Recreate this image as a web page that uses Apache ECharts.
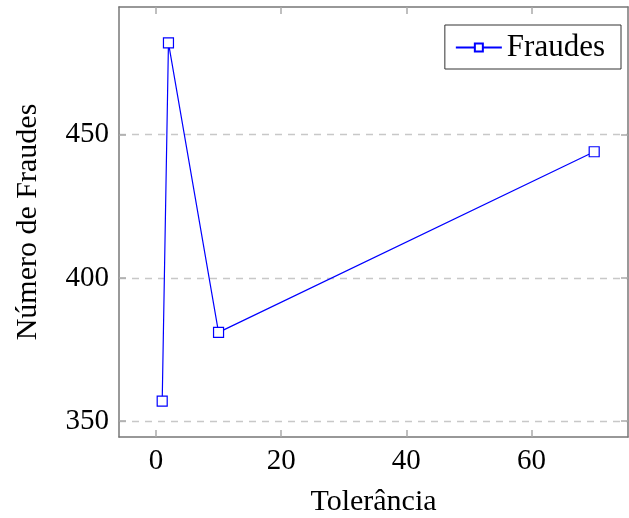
<!DOCTYPE html>
<html>
<head>
<meta charset="utf-8">
<script src="https://cdn.jsdelivr.net/npm/echarts@6/dist/echarts.min.js"></script>
<style>
  html, body { margin: 0; padding: 0; background: #fff; }
  #main { width: 629px; height: 518px; }
</style>
</head>
<body>
<div id="main"></div>
<script>
// dados
var tolerancia = [1, 2, 10, 70]
var fraudes = [357, 482, 381, 444]
var xTicks = [0, 20, 40, 60]
var yTicks = [350, 400, 450]

var font = 'Liberation Serif'
var myChart = echarts.init(document.getElementById('main'))

var pontos = tolerancia.map(function (t, i) { return [t, fraudes[i]] })

var axisGray = '#777'
var tickStyle = { color: '#aaa', width: 1.5 }
var option = {
    animation: false,
    textStyle: { fontFamily: font },
    grid: { left: 119, top: 7, right: 1, bottom: 81, outerBoundsMode: 'none', containLabel: false },
    legend: {
        data: ['Fraudes'],
        right: 8,
        top: 25,
        orient: 'vertical',
        backgroundColor: '#fff',
        borderColor: '#333',
        borderWidth: 1,
        padding: [7, 16, 6, 10],
        itemWidth: 46,
        itemHeight: 10,
        itemGap: 0,
        textStyle: { fontFamily: font, fontSize: 31, color: '#000' }
    },
    xAxis: [{
        type: 'value',
        min: -5.9,
        max: 75.4,
        name: 'Tolerância',
        nameLocation: 'middle',
        nameGap: 50,
        nameTextStyle: { fontFamily: font, fontSize: 30, color: '#000' },
        axisLine: { show: true, onZero: false, lineStyle: { color: axisGray, width: 1.5 } },
        axisTick: { show: true, inside: true, length: 7, lineStyle: tickStyle, customValues: xTicks },
        axisLabel: { fontFamily: font, fontSize: 29, color: '#000', margin: 10, customValues: xTicks },
        splitLine: { show: false }
    }, {
        type: 'value',
        position: 'top',
        min: -5.9,
        max: 75.4,
        axisLine: { show: true, onZero: false, lineStyle: { color: axisGray, width: 1.5 } },
        axisTick: { show: true, inside: true, length: 7, lineStyle: tickStyle, customValues: xTicks },
        axisLabel: { show: false },
        splitLine: { show: false }
    }],
    yAxis: [{
        type: 'value',
        min: 344.5,
        max: 494.5,
        name: 'Número de Fraudes',
        nameLocation: 'middle',
        nameGap: 76,
        nameTextStyle: { fontFamily: font, fontSize: 30, color: '#000' },
        axisLine: { show: true, onZero: false, lineStyle: { color: axisGray, width: 1.5 } },
        axisTick: { show: true, inside: true, length: 7, lineStyle: tickStyle, customValues: yTicks },
        axisLabel: { fontFamily: font, fontSize: 29, color: '#000', margin: 10, customValues: yTicks },
        splitLine: { show: false }
    }, {
        type: 'value',
        position: 'right',
        min: 344.5,
        max: 494.5,
        axisLine: { show: true, onZero: false, lineStyle: { color: axisGray, width: 1.5 } },
        axisTick: { show: true, inside: true, length: 7, lineStyle: tickStyle, customValues: yTicks },
        axisLabel: { show: false },
        splitLine: { show: false }
    }],
    series: [{
        name: 'Fraudes',
        type: 'line',
        data: pontos,
        symbol: 'rect',
        symbolSize: 10,
        itemStyle: { color: '#fff', borderColor: '#0000ff', borderWidth: 1.2 },
        lineStyle: { color: '#0000ff', width: 1.2 },
        markLine: {
            silent: true,
            symbol: 'none',
            label: { show: false },
            lineStyle: { color: '#c8c8c8', type: [7, 6], width: 1.3 },
            data: yTicks.map(function (v) { return { yAxis: v } }),
            z: 0
        }
    }]
}
myChart.setOption(option)
</script>
</body>
</html>
